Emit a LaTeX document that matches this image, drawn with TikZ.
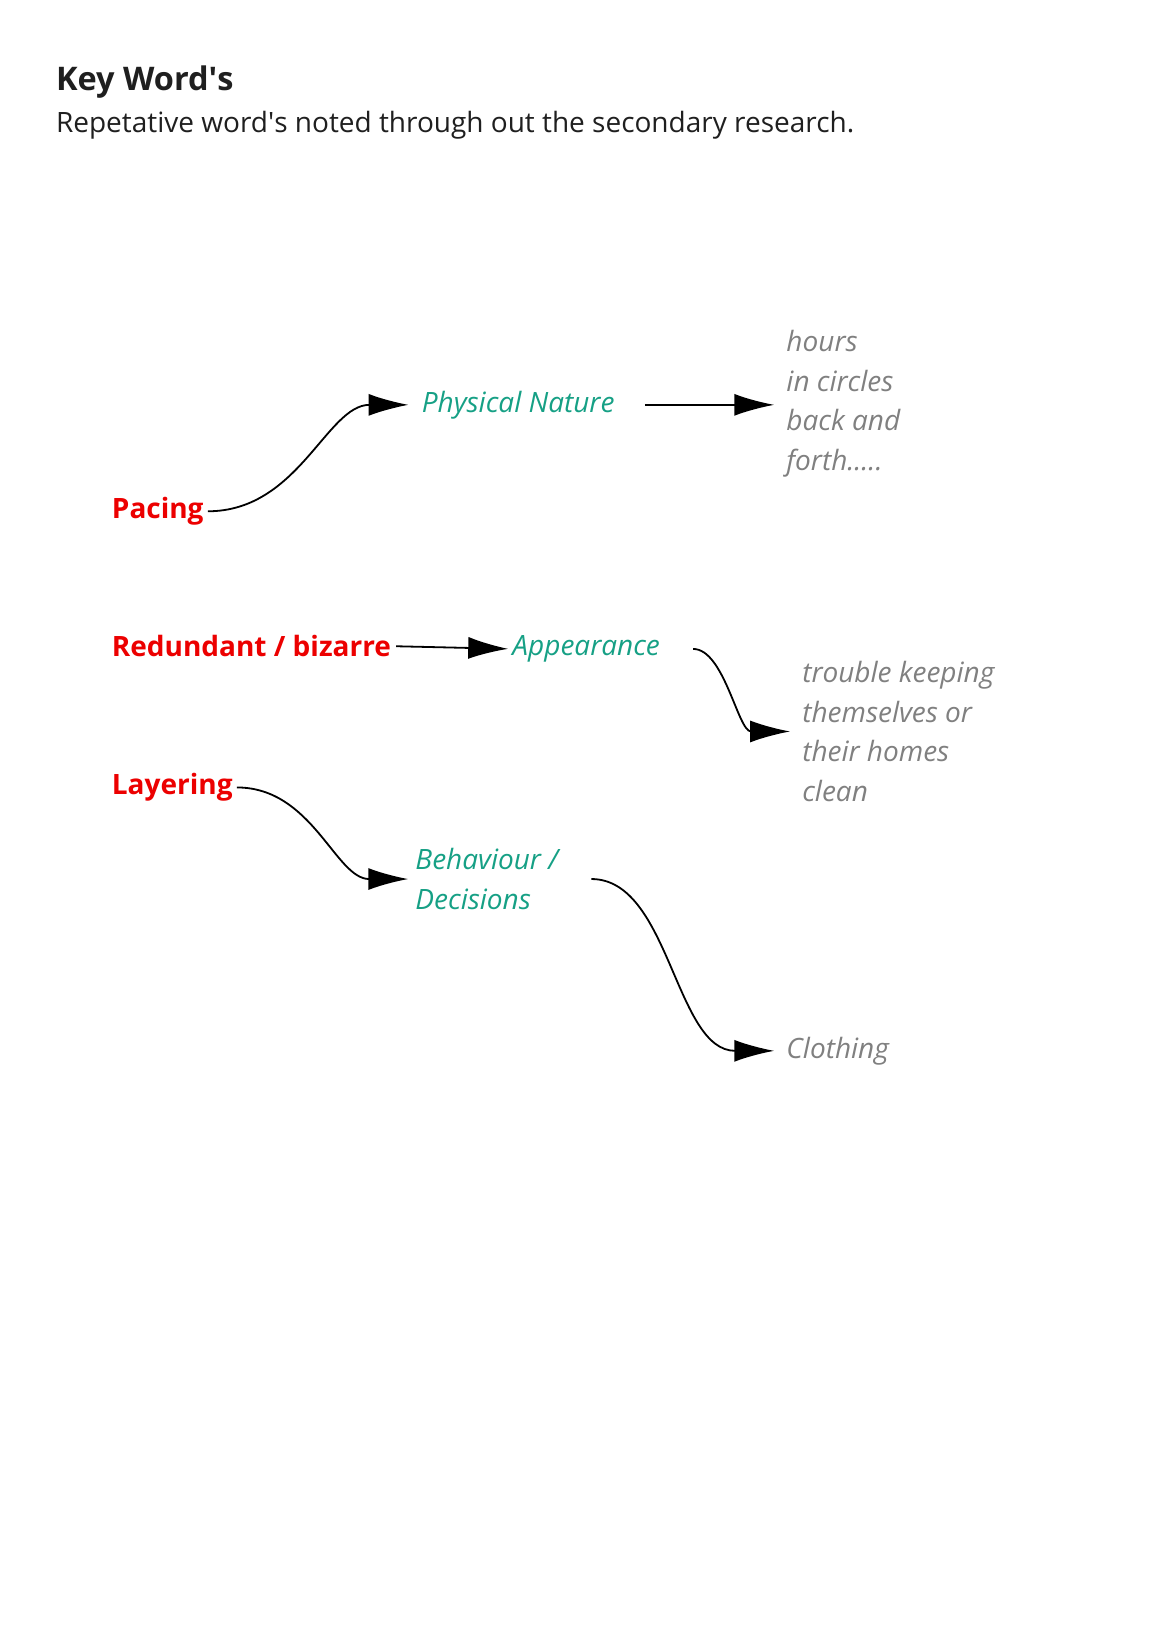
\documentclass[tikz,border=0pt]{standalone}
\usepackage{fontspec}
\setmainfont{Open Sans}
\usepackage{xcolor}
\usetikzlibrary{positioning,arrows.meta}

\definecolor{keyred}{RGB}{236,0,0}
\definecolor{catteal}{RGB}{22,160,133}
\definecolor{notegray}{RGB}{128,128,128}

\tikzset{
    keyword/.style={anchor=base west, inner sep=0pt, text=keyred, font=\fontsize{28}{38}\selectfont\bfseries},
    category/.style={anchor=base west, inner sep=0pt, text=catteal, align=left, font=\fontsize{28}{39.5}\selectfont\itshape},
    detail/.style={anchor=west, inner sep=0pt, text=notegray, align=left, font=\fontsize{28}{39.5}\selectfont\itshape},
    link/.style={line width=1.8pt, -{Latex[length=40pt,width=22pt]}}
}

\begin{document}
\begin{tikzpicture}[x=1.054pt,y=-1.054pt]
    \useasboundingbox (0,0) rectangle (1100,1556);

    \node[anchor=base west, inner sep=0pt, font=\fontsize{32.5}{38}\selectfont\bfseries, text=black!88] (title) at (53,86) {Key Word\textquotesingle s};
    \node[anchor=base west, inner sep=0pt, font=\fontsize{28}{34}\selectfont, text=black!88] (subtitle) at (53,126) {Repetative word\textquotesingle s noted through out the secondary research.};

    % Key words
    \node[keyword] (pacing) at (106,492) {Pacing};
    \node[keyword] (redundant) at (106,623) {Redundant / bizarre};
    \node[keyword] (layering) at (106,754) {Layering};

    % Categories
    \node[category] (physical) at (400,391) {Physical Nature};
    \node[category] (appearance) at (486,622) {Appearance};
    \node[category, anchor=west] (behaviour) at (394,834) {Behaviour /\\Decisions};

    % Details
    \node[detail] (hours) at (746,383) {hours\\in circles\\back and\\forth.....};
    \node[detail] (trouble) at (761,694) {trouble keeping\\themselves or\\their homes\\clean};
    \node[detail] (clothing) at (746,997) {Clothing};

    \draw[link, shorten <=4pt, shorten >=13pt] (pacing.east) to[out=0,in=180] (physical.west);
    \draw[link, shorten <=30pt, shorten >=12pt] (physical.east) -- (physical.east -| hours.west);
    \draw[link, shorten <=5pt, shorten >=4pt] (redundant.east) -- (appearance.west);
    \draw[link, shorten <=33pt, shorten >=12pt] (appearance.east) to[out=0,in=180] (trouble.west);
    \draw[link, shorten <=4pt, shorten >=7pt] (layering.east) to[out=0,in=180] (behaviour.west);
    \draw[link, shorten <=33pt, shorten >=12pt] (behaviour.east) to[out=0,in=180] (clothing.west);
\end{tikzpicture}
\end{document}
